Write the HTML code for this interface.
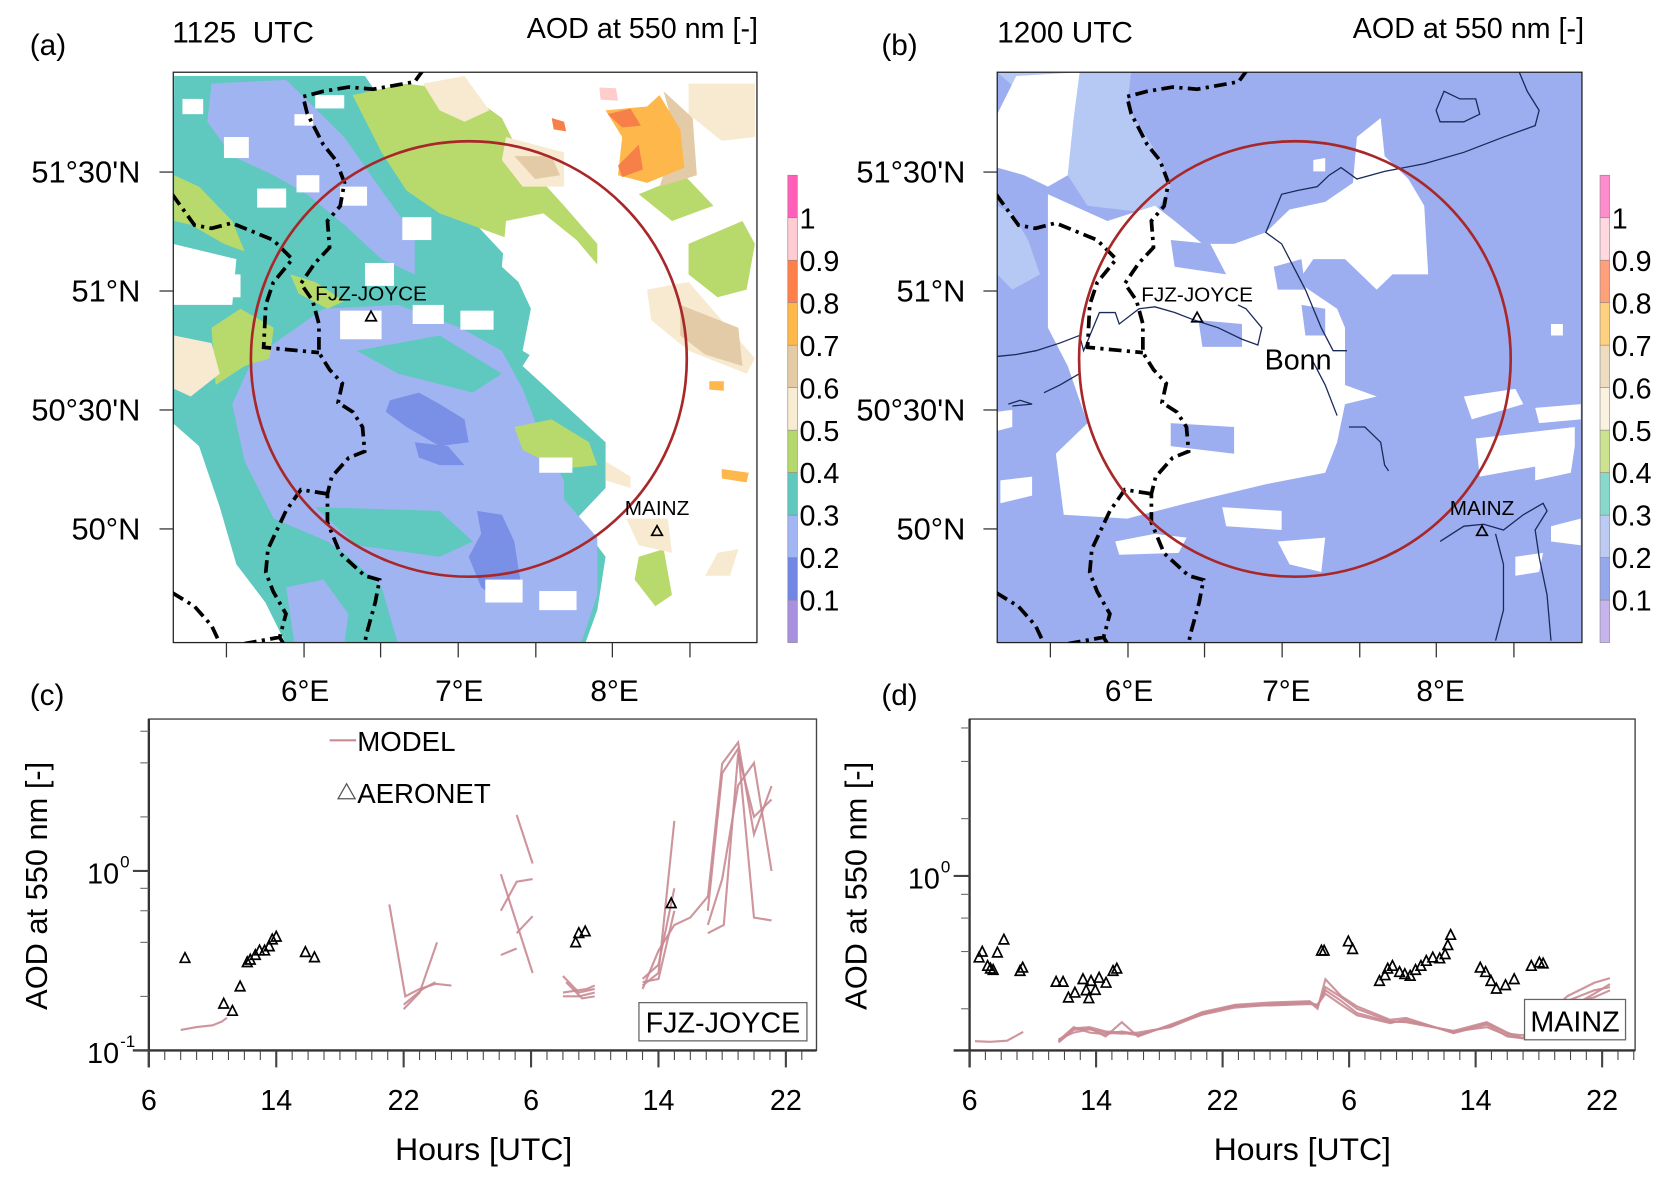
<!DOCTYPE html>
<html><head><meta charset="utf-8">
<style>
html,body{margin:0;padding:0;background:#fff;}
svg{display:block;font-family:"Liberation Sans",Arial,sans-serif;}
</style></head>
<body>
<svg id="fig" width="1667" height="1180" viewBox="0 0 1568 1111" preserveAspectRatio="none">
<defs>
<clipPath id="clipA"><rect x="163" y="68" width="549" height="537"/></clipPath>
<clipPath id="clipB"><rect x="938" y="68" width="550" height="537"/></clipPath>
<clipPath id="clipC"><rect x="140" y="677" width="628" height="312"/></clipPath>
<clipPath id="clipD"><rect x="912" y="677" width="626" height="312"/></clipPath>
<g id="borders">
<polyline points="398,66 390,77 351,84 328,82 304,86 285,91 289,107 304,136 316,151 324,172 320,194 308,208 310,233 296,248 283,267 294,283 300,305 300,332 310,348 322,361 318,379 332,388 341,402 343,425 328,431 312,449 308,465 308,492 320,521 343,542 357,546 353,567 345,596 341,615"/>
<polyline points="162,183 183,212 199,215 218,210 257,226 275,244 257,266 250,287 248,327 300,332"/>
<polyline points="308,465 283,461 269,481 252,517 250,539 257,557 269,578 263,600 230,606"/>
<polyline points="263,600 268,608"/>
<polyline points="162,558 183,571 199,589 207,606"/>
</g>
</defs>

<!-- ================= PANEL A ================= -->
<g>
<text x="28" y="52" font-size="28">(a)</text>
<text x="162" y="40" font-size="28" xml:space="preserve">1125  UTC</text>
<text x="713" y="36" font-size="27" text-anchor="end">AOD at 550 nm [-]</text>
<g clip-path="url(#clipA)">
<g transform="translate(140.4,57.2) scale(0.3902,0.3592)">
<polygon fill="#5fc8bf" points="60,40 520,40 620,200 780,420 900,560 960,700 900,800 1000,900 1100,1000 1100,1120 1030,1200 1100,1300 1080,1440 1050,1530 330,1530 280,1420 210,1320 170,1170 120,1010 57,950"/>
<polygon fill="#a0b4f2" points="250,780 420,650 600,640 750,700 850,760 900,860 950,1000 1000,1100 1000,1150 1080,1250 1080,1400 1040,1530 600,1530 560,1380 480,1300 430,1260 300,1200 230,1050 200,900"/>
<polygon fill="#a0b4f2" points="150,60 330,50 470,200 560,340 640,460 640,560 560,520 470,430 380,350 300,300 200,250 140,160"/>
<polygon fill="#a0b4f2" points="330,1380 420,1360 480,1450 470,1530 350,1530"/>
<polygon fill="#5fc8bf" points="500,760 700,720 850,820 780,870 600,820"/>
<polygon fill="#5fc8bf" points="400,1170 700,1180 780,1260 700,1300 500,1270"/>
<polygon fill="#7a90e6" points="580,890 650,870 700,900 760,940 770,1000 700,1010 620,960 570,920"/>
<polygon fill="#7a90e6" points="640,1000 720,1010 760,1060 700,1060 650,1040"/>
<polygon fill="#7a90e6" points="790,1180 850,1190 880,1260 900,1400 850,1420 800,1380 770,1300 800,1240"/>
<polygon fill="#b8da6c" points="490,90 620,60 760,80 850,150 900,260 1000,380 1080,480 1080,560 1000,560 900,480 800,440 700,400 620,340 560,240"/>
<polygon fill="#b8da6c" points="1300,480 1430,420 1460,480 1440,600 1370,620 1300,560"/>
<polygon fill="#b8da6c" points="1180,350 1290,300 1360,380 1260,420"/>
<polygon fill="#b8da6c" points="60,300 120,330 200,420 230,500 180,480 100,430 60,420"/>
<polygon fill="#b8da6c" points="150,700 220,650 300,700 290,780 230,800 160,850"/>
<polygon fill="#b8da6c" points="880,960 970,940 1060,1000 1080,1060 990,1070 900,1020"/>
<polygon fill="#b8da6c" points="1180,1300 1240,1280 1260,1400 1220,1430 1170,1360"/>
<polygon fill="#b8da6c" points="340,560 400,580 470,630 430,650 360,610"/>
<polygon fill="#f7ead0" points="660,60 760,40 820,130 760,160 700,130"/>
<polygon fill="#f7ead0" points="860,200 1000,240 1000,330 900,330 850,260"/>
<polygon fill="#f7ead0" points="1300,60 1460,60 1460,200 1380,210 1300,140"/>
<polygon fill="#f7ead0" points="1200,600 1300,580 1460,780 1440,820 1300,760 1210,680"/>
<polygon fill="#f7ead0" points="60,720 150,740 170,820 100,880 60,860"/>
<polygon fill="#f7ead0" points="1100,1050 1160,1090 1160,1120 1100,1100"/>
<polygon fill="#f7ead0" points="1150,1200 1250,1200 1260,1290 1180,1270"/>
<polygon fill="#f7ead0" points="1370,1290 1420,1280 1400,1350 1340,1350"/>
<polygon fill="#e2cba6" points="880,250 970,250 990,300 930,310"/>
<polygon fill="#e2cba6" points="1280,640 1420,700 1430,800 1340,770 1280,720"/>
<polygon fill="#e2cba6" points="1240,80 1310,150 1320,300 1230,330 1270,200"/>
<polygon fill="#fdb74a" points="1100,130 1200,120 1230,90 1280,180 1290,280 1200,320 1130,300 1140,200"/>
<polygon fill="#f78048" points="1105,140 1160,125 1185,170 1140,175"/>
<polygon fill="#f78048" points="1130,275 1180,220 1190,285 1140,305"/>
<polygon fill="#f78048" points="970,150 1000,160 1005,185 975,180"/>
<polygon fill="#ffcccc" points="1085,70 1125,72 1130,105 1088,102"/>
<polygon fill="#fdb74a" points="1350,840 1385,840 1385,865 1350,862"/>
<polygon fill="#fdb74a" points="1380,1070 1445,1080 1440,1105 1380,1095"/>
<g fill="#ffffff">
<rect x="180" y="200" width="60" height="55"/><rect x="260" y="335" width="70" height="50"/>
<rect x="355" y="300" width="55" height="45"/><rect x="350" y="140" width="45" height="30"/>
<rect x="400" y="90" width="70" height="35"/><rect x="460" y="330" width="65" height="50"/>
<rect x="610" y="410" width="70" height="60"/><rect x="520" y="530" width="70" height="60"/>
<rect x="460" y="655" width="100" height="75"/><rect x="635" y="640" width="75" height="50"/>
<rect x="750" y="655" width="80" height="50"/><rect x="940" y="1040" width="80" height="40"/>
<rect x="810" y="1360" width="90" height="60"/><rect x="940" y="1390" width="90" height="50"/>
<rect x="80" y="100" width="50" height="40"/><rect x="160" y="560" width="60" height="60"/>
<polygon points="860,420 950,400 1030,470 1100,560 1180,650 1200,800 1150,880 1060,900 990,820 900,760 920,650 890,580 850,540"/>
<polygon points="57,480 210,520 200,640 57,640"/>
<polygon points="57,960 150,1150 230,1400 290,1530 57,1530"/>
</g>
</g>
</g>
<rect x="163" y="68" width="549" height="537" fill="none" stroke="#222" stroke-width="1.2"/>
<use href="#borders" clip-path="url(#clipA)" fill="none" stroke="#000" stroke-width="3.5" stroke-dasharray="12,5,3,5"/>
<ellipse cx="441" cy="338" rx="205" ry="205" fill="none" stroke="#a8282a" stroke-width="2.5"/>
<polygon points="349,293 344,302 354,302" fill="none" stroke="#000" stroke-width="1.6"/>
<text x="349" y="283" font-size="19.5" text-anchor="middle">FJZ-JOYCE</text>
<polygon points="618,495 613,504 623,504" fill="none" stroke="#000" stroke-width="1.6"/>
<text x="618" y="485" font-size="19.5" text-anchor="middle">MAINZ</text>
<g stroke="#333" stroke-width="1.2">
<line x1="150" y1="162" x2="163" y2="162"/><line x1="150" y1="274" x2="163" y2="274"/>
<line x1="150" y1="386" x2="163" y2="386"/><line x1="150" y1="498" x2="163" y2="498"/>
</g>
<g stroke="#333" stroke-width="1.2">
<line x1="213" y1="605" x2="213" y2="619"/><line x1="286" y1="605" x2="286" y2="619"/><line x1="358" y1="605" x2="358" y2="619"/><line x1="431" y1="605" x2="431" y2="619"/><line x1="504" y1="605" x2="504" y2="619"/><line x1="576" y1="605" x2="576" y2="619"/><line x1="649" y1="605" x2="649" y2="619"/>
</g>
<g font-size="29" text-anchor="end">
<text x="132" y="172">51°30'N</text><text x="132" y="284">51°N</text><text x="132" y="396">50°30'N</text><text x="132" y="508">50°N</text>
</g>
<g font-size="28" text-anchor="middle">
<text x="287" y="660">6°E</text><text x="432" y="660">7°E</text><text x="578" y="660">8°E</text>
</g>
<g id="cbarA"></g>
</g>

<!-- ================= PANEL B ================= -->
<g>
<text x="829" y="52" font-size="28">(b)</text>
<text x="938" y="40" font-size="28">1200 UTC</text>
<text x="1490" y="36" font-size="27" text-anchor="end">AOD at 550 nm [-]</text>
<g clip-path="url(#clipB)">
<rect x="938" y="68" width="550" height="537" fill="#9daef0"/>
<g transform="translate(929.8,57.2) scale(0.3726,0.3592)">
<polygon fill="#b6c8f4" points="22,30 360,30 350,120 430,250 460,330 420,400 330,390 250,380 200,300 210,200"/>
<polygon fill="#b6c8f4" points="22,380 60,400 100,470 130,560 60,600 22,560"/>
<g fill="#ffffff">
<polygon points="22,140 70,40 230,30 215,150 200,300 150,330 90,300 22,280"/>
<polygon points="150,350 300,420 420,380 470,420 540,480 620,480 700,450 760,390 850,370 920,320 930,200 990,150 1000,250 1060,310 1100,380 1110,560 1020,560 980,600 900,520 820,520 780,580 880,650 900,700 900,850 980,880 900,900 880,1000 850,1080 700,1110 500,1160 350,1200 190,1190 170,1030 250,950 200,800 150,700 150,500"/>
<polygon points="30,1100 110,1090 110,1140 30,1160"/>
<polygon points="320,1260 420,1240 500,1250 480,1290 330,1295"/>
<polygon points="730,1260 850,1250 840,1340 760,1320"/>
<polygon points="590,1170 740,1180 740,1230 600,1220"/>
<polygon points="1200,880 1330,860 1350,900 1220,940"/>
<polygon points="1380,910 1495,900 1495,940 1390,950"/>
<polygon points="1230,990 1480,960 1480,1010 1400,1060 1240,1090"/>
<polygon points="1380,1020 1480,1010 1470,1080 1380,1100"/>
<polygon points="1420,1220 1495,1200 1495,1270 1420,1260"/>
<polygon points="1330,1300 1400,1290 1390,1340 1330,1350"/>
<polygon points="22,920 60,915 60,960 22,970"/>
<polygon points="820,260 850,255 850,290 820,290"/>
<polygon points="1420,690 1450,690 1450,720 1420,720"/>
</g>
<g fill="#9daef0">
<polygon points="460,950 620,960 620,1030 460,1010"/>
<polygon points="530,680 640,690 640,750 540,750"/>
<polygon points="790,640 850,650 850,720 800,720"/>
<polygon points="460,470 560,480 600,560 470,540"/>
<polygon points="720,540 790,520 800,600 730,600"/>
</g>
<g fill="none" stroke="#1a2a5a" stroke-width="1.3">
<polyline vector-effect="non-scaling-stroke" points="1340,30 1360,80 1390,130 1380,170 1300,200 1200,240 1100,270 1000,290 930,310 890,280 860,300 830,330 780,340 740,350 720,400 700,450 740,480 770,540 800,600 820,650 840,700 870,760 905,760"/>
<polyline vector-effect="non-scaling-stroke" points="820,790 850,850 880,930"/>
<polyline vector-effect="non-scaling-stroke" points="22,775 70,770 120,760 180,740 230,720 240,760 280,660 320,660 330,690 380,650 420,645 470,660 520,680 580,700 640,730 680,745 690,700 650,650 630,640"/>
<polyline vector-effect="non-scaling-stroke" points="230,820 180,850 140,870"/>
<polygon vector-effect="non-scaling-stroke" points="1130,130 1150,80 1190,100 1230,100 1240,140 1200,160 1140,160"/>
<polyline vector-effect="non-scaling-stroke" points="1140,1260 1200,1220 1250,1215 1300,1230 1350,1190 1400,1160 1410,1180 1380,1230 1390,1300 1410,1400 1420,1520"/>
<polyline vector-effect="non-scaling-stroke" points="1280,1240 1300,1320 1300,1440 1280,1520"/>
<polyline vector-effect="non-scaling-stroke" points="910,960 950,960 990,1000 1000,1060 1010,1075"/>
<polyline vector-effect="non-scaling-stroke" points="50,900 80,890 110,900 60,905"/>
</g>
</g>
</g>
<rect x="938" y="68" width="550" height="537" fill="none" stroke="#222" stroke-width="1.2"/>
<use href="#borders" transform="translate(775,0)" clip-path="url(#clipA)" fill="none" stroke="#000" stroke-width="3.5" stroke-dasharray="12,5,3,5"/>
<ellipse cx="1218" cy="338" rx="203" ry="205" fill="none" stroke="#a8282a" stroke-width="2.5"/>
<polygon points="1126,294 1121,303 1131,303" fill="none" stroke="#000" stroke-width="1.6"/>
<text x="1126" y="284" font-size="19.5" text-anchor="middle">FJZ-JOYCE</text>
<polygon points="1394,495 1389,504 1399,504" fill="none" stroke="#000" stroke-width="1.6"/>
<text x="1394" y="485" font-size="19.5" text-anchor="middle">MAINZ</text>
<text x="1221" y="348" font-size="27" text-anchor="middle">Bonn</text>
<g stroke="#333" stroke-width="1.2">
<line x1="925" y1="162" x2="938" y2="162"/><line x1="925" y1="274" x2="938" y2="274"/>
<line x1="925" y1="386" x2="938" y2="386"/><line x1="925" y1="498" x2="938" y2="498"/>
</g>
<g stroke="#333" stroke-width="1.2">
<line x1="988" y1="605" x2="988" y2="619"/><line x1="1061" y1="605" x2="1061" y2="619"/><line x1="1133" y1="605" x2="1133" y2="619"/><line x1="1206" y1="605" x2="1206" y2="619"/><line x1="1279" y1="605" x2="1279" y2="619"/><line x1="1351" y1="605" x2="1351" y2="619"/><line x1="1424" y1="605" x2="1424" y2="619"/>
</g>
<g font-size="29" text-anchor="end">
<text x="908" y="172">51°30'N</text><text x="908" y="284">51°N</text><text x="908" y="396">50°30'N</text><text x="908" y="508">50°N</text>
</g>
<g font-size="28" text-anchor="middle">
<text x="1062" y="660">6°E</text><text x="1210" y="660">7°E</text><text x="1355" y="660">8°E</text>
</g>
<g id="cbarB"></g>
</g>

<!-- ================= PANEL C ================= -->
<g id="panelC">
<text x="28" y="664" font-size="28">(c)</text>
<text transform="translate(44,834) rotate(-90)" font-size="29" text-anchor="middle">AOD at 550 nm [-]</text>
<text x="455" y="1092" font-size="30" text-anchor="middle">Hours [UTC]</text>
<line x1="310" y1="697" x2="335" y2="697" stroke="#c98a92" stroke-width="2"/>
<text x="336" y="707" font-size="26">MODEL</text>
<polygon points="326,738 318,752 334,752" fill="none" stroke="#555" stroke-width="1.2"/>
<text x="336" y="756" font-size="26">AERONET</text>
</g>
<g id="panelD">
<text x="829" y="664" font-size="28">(d)</text>
<text transform="translate(815,834) rotate(-90)" font-size="29" text-anchor="middle">AOD at 550 nm [-]</text>
<text x="1225" y="1092" font-size="30" text-anchor="middle">Hours [UTC]</text>
</g>
</svg>

<script>
// ---- colorbar data ----
const cbarBounds = [0.1,0.2,0.3,0.4,0.5,0.6,0.7,0.8,0.9,1];
const cbarColorsA = ["#a890e0","#7088e4","#a2b6f4","#5fc8bf","#b5d86a","#f8ecd2","#e5cba3","#ffb84a","#ff7f4a","#ffccd4","#ff5fb8"];
const cbarColorsB = ["#c8b4ec","#95a8ec","#bccaf4","#88d8cc","#cce290","#faf1e0","#eedcc0","#ffd080","#ffa07a","#ffd8e0","#ff8ccc"];

// ---- panel c data (hours since 06 UTC day 1) ----
const xTickLabels = ["6","14","22","6","14","22"];
const xTickHours = [0,8,16,24,32,40];
const cAeronetHours = [2.27,4.7,5.25,5.73,6.18,6.37,6.69,6.95,7.27,7.56,7.75,8.0,9.83,10.4,26.8,27.0,27.4,32.8];
const cAeronetAod = [0.327,0.182,0.166,0.227,0.31,0.32,0.34,0.36,0.36,0.38,0.415,0.43,0.353,0.33,0.40,0.45,0.46,0.66];
const cModelSegments = [
 [[2.0,0.13],[3.0,0.135],[4.0,0.138],[4.6,0.145],[4.9,0.152]],
 [[15.1,0.65],[16.1,0.20],[17.0,0.22],[18.0,0.235],[19.0,0.23]],
 [[16.0,0.17],[17.0,0.21],[18.1,0.40]],
 [[16.0,0.18],[17.2,0.22],[18.0,0.24]],
 [[22.1,0.96],[24.1,0.27]],
 [[23.1,2.05],[24.1,1.1]],
 [[22.1,0.34],[23.1,0.37]],
 [[22.1,0.6],[23.1,0.87],[24.1,0.9]],
 [[23.1,0.45],[24.1,0.56]],
 [[26.0,0.26],[27.0,0.21],[28.0,0.22]],
 [[26.0,0.2],[27.0,0.2],[28.0,0.21]],
 [[26.2,0.24],[27.2,0.195],[28.0,0.2]],
 [[26.0,0.21],[27.5,0.22],[28.0,0.23]],
 [[31.0,0.23],[32.0,0.27],[33.0,1.9]],
 [[31.0,0.24],[32.0,0.25],[33.0,0.6]],
 [[31.0,0.25],[32.0,0.3],[33.0,0.8]],
 [[31.0,0.22],[32.0,0.36],[33.0,0.50],[34.0,0.55],[35.1,0.72]],
 [[35.1,0.71],[36.0,3.96],[37.0,5.2],[38.0,1.6],[39.1,2.97]],
 [[35.1,0.45],[36.1,0.5],[37.0,4.5],[38.0,2.0],[39.1,2.5]],
 [[35.1,0.6],[36.0,3.5],[37.0,4.8],[38.0,0.55],[39.1,0.53]],
 [[35.1,0.5],[36.0,0.9],[37.0,3.0],[38.0,4.0],[39.1,1.0]]
];

// ---- panel d data ----
const dAeronetHours = [0.6,0.8,1.14,1.32,1.49,1.76,2.17,3.19,3.36,5.47,5.91,6.25,6.66,7.17,7.37,7.54,7.68,7.95,8.19,8.63,9.07,9.31,22.25,22.42,23.95,24.22,25.92,26.27,26.44,26.74,27.19,27.52,27.86,28.2,28.54,28.88,29.29,29.73,30.07,30.24,30.42,32.29,32.63,32.97,33.31,33.89,34.44,35.52,36.03,36.27];
const dAeronetAod = [0.372,0.399,0.336,0.325,0.32,0.395,0.462,0.316,0.329,0.277,0.277,0.229,0.243,0.286,0.25,0.227,0.28,0.251,0.291,0.274,0.316,0.325,0.404,0.404,0.452,0.412,0.28,0.30,0.325,0.336,0.312,0.304,0.298,0.32,0.336,0.357,0.372,0.368,0.387,0.432,0.489,0.329,0.312,0.28,0.255,0.266,0.286,0.336,0.35,0.346];
const dModelHours = [5.63,6.58,7.6,8.6,9.63,10.65,12.7,14.7,16.8,19.1,21.5,22.0,22.5,23.5,24.5,26.6,27.6,30.6,32.7,34.0,35.0,37.8,39.5,40.5];
const dModelRun1 = [0.133,0.155,0.158,0.143,0.17,0.143,0.165,0.19,0.206,0.213,0.217,0.20,0.286,0.233,0.206,0.175,0.179,0.149,0.165,0.143,0.14,0.233,0.274,0.29];
const dModelRun2 = [0.136,0.16,0.15,0.147,0.152,0.147,0.162,0.186,0.203,0.21,0.214,0.21,0.25,0.22,0.19,0.17,0.172,0.152,0.16,0.145,0.14,0.22,0.25,0.26];
const dModelRun3 = [0.138,0.15,0.156,0.15,0.148,0.15,0.16,0.188,0.208,0.208,0.212,0.21,0.24,0.21,0.185,0.168,0.176,0.15,0.168,0.148,0.145,0.2,0.24,0.27];
const dModelRun4 = [0.135,0.158,0.16,0.152,0.15,0.145,0.163,0.192,0.21,0.216,0.219,0.205,0.26,0.23,0.2,0.172,0.17,0.153,0.17,0.15,0.14,0.21,0.23,0.25];
const dModelEarlyHours = [0.34,1.3,2.37,3.39];
const dModelEarly = [0.135,0.134,0.136,0.151];
const yMinorTicks = [0.2,0.4,0.6,0.8,2,4,6];

const NS = "http://www.w3.org/2000/svg";
function mk(tag, attrs, parent){ const e=document.createElementNS(NS,tag); for(const k in attrs) e.setAttribute(k,attrs[k]); parent.appendChild(e); return e; }

function drawCbar(gid, x, colors){
  const g=document.getElementById(gid);
  const top=165, h=40;
  for(let i=0;i<colors.length;i++){
    const y = top + (colors.length-1-i)*h;
    const r=mk('rect',{x:x,y:y,width:9,height:h,fill:colors[i],stroke:'#888','stroke-width':0.6},g);
    
    
  }
  cbarBounds.forEach((b,i)=>{
    const y = top + (cbarBounds.length-i)*h;
    const t=mk('text',{x:x+11,y:y+10,'font-size':27},g);
    t.textContent = String(b);
    
    
  });
}
drawCbar('cbarA',741,cbarColorsA);
drawCbar('cbarB',1505,cbarColorsB);

function makeChart(gid, cfg){
  const g=document.getElementById(gid);
  const xS = h => cfg.x0 + h*cfg.pxh;
  const yS = v => cfg.y1 - (Math.log10(v)-Math.log10(cfg.vmin))*cfg.dec;
  const plot=mk('g',{'clip-path':cfg.clip},g);
  cfg.lines.forEach(pts=>{
    const p=mk('polyline',{points:pts.map(q=>xS(q[0]).toFixed(1)+','+yS(q[1]).toFixed(1)).join(' '),fill:'none',stroke:'#c98a92','stroke-width':2,'stroke-opacity':0.9},plot);
    
    
  });
  cfg.obsH.forEach((h,i)=>{
    const cx=xS(h), cy=yS(cfg.obsV[i]);
    const t=mk('polygon',{points:`${cx},${cy-5} ${cx-4.5},${cy+4} ${cx+4.5},${cy+4}`,fill:'none',stroke:'#000','stroke-width':1.6},plot);
    
    
  });
  const bx=mk('g',{},g);
  
  
  mk('rect',{x:cfg.box[0],y:cfg.box[1],width:cfg.box[2],height:cfg.box[3],fill:'#fff',stroke:'#666','stroke-width':1.2},bx);
  const bt=mk('text',{x:cfg.box[0]+cfg.box[2]/2,y:cfg.box[1]+cfg.box[3]-8,'font-size':27,'text-anchor':'middle'},bx);
  bt.textContent=cfg.station;
  const fr=mk('rect',{x:cfg.x0,y:cfg.yTop,width:cfg.w,height:cfg.y1-cfg.yTop,fill:'none',stroke:'#444','stroke-width':1.3},g);
  
  
  mk('line',{x1:cfg.x0-15,y1:cfg.y1,x2:cfg.x0+cfg.w,y2:cfg.y1,stroke:'#333','stroke-width':2.2},g);
  mk('line',{x1:cfg.x0,y1:cfg.yTop,x2:cfg.x0,y2:cfg.y1+16,stroke:'#333','stroke-width':2.2},g);
  for(let h=0; xS(h)<=cfg.x0+cfg.w+0.5; h++){
    const major = h%8===0;
    mk('line',{x1:xS(h),y1:cfg.y1,x2:xS(h),y2:cfg.y1+(major?16:9),stroke:'#444','stroke-width':major?2:1},g);
  }
  xTickHours.forEach((h,i)=>{
    const t=mk('text',{x:xS(h),y:1045,'font-size':27,'text-anchor':'middle'},g);
    t.textContent=xTickLabels[i];
    
    
  });
  yMinorTicks.forEach(v=>{
    const y=yS(v); if(y<cfg.yTop||y>cfg.y1) return;
    mk('line',{x1:cfg.x0-8,y1:y,x2:cfg.x0,y2:y,stroke:'#666','stroke-width':1},g);
  });
  cfg.majors.forEach(e=>{
    const y=yS(Math.pow(10,e));
    mk('line',{x1:cfg.x0-15,y1:y,x2:cfg.x0,y2:y,stroke:'#444','stroke-width':2},g);
    const t=mk('text',{x:cfg.x0-28,y:y+12,'font-size':27,'text-anchor':'end'},g);
    t.textContent='10';
    
    
    const s=mk('text',{x:cfg.x0-27,y:y-3,'font-size':16},g);
    s.textContent=String(e);
  });
}

makeChart('panelC',{x0:140,w:628,pxh:14.98,yTop:677,y1:989,vmin:0.1,dec:169,clip:'url(#clipC)',
  lines:cModelSegments,obsH:cAeronetHours,obsV:cAeronetAod,box:[601,944,158,36],station:'FJZ-JOYCE',majors:[-1,0]});

const dLines=[dModelRun1,dModelRun2,dModelRun3,dModelRun4].map(run=>dModelHours.map((h,i)=>[h,run[i]]));
dLines.push(dModelEarlyHours.map((h,i)=>[h,dModelEarly[i]]));
makeChart('panelD',{x0:912,w:626,pxh:14.875,yTop:677,y1:989,vmin:Math.pow(10,-0.918),dec:179,clip:'url(#clipD)',
  lines:dLines,obsH:dAeronetHours,obsV:dAeronetAod,box:[1434,941,95,38],station:'MAINZ',majors:[0]});
</script>
</body></html>
